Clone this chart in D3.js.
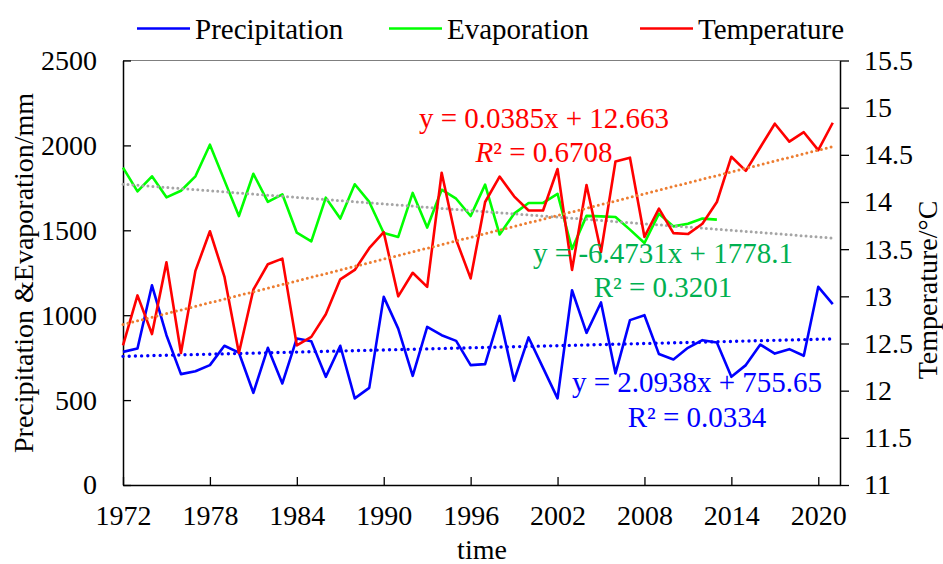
<!DOCTYPE html>
<html>
<head>
<meta charset="utf-8">
<script src="https://cdn.jsdelivr.net/npm/d3@7"></script>
<style>
  body { margin: 0; background: #fff; }
  svg text { font-family: "Liberation Serif", "Times New Roman", serif; }
</style>
</head>
<body>
<div class="canvas"></div>
<script>
// data
const years = d3.range(1972, 2022);

const precipitation = [784, 804, 1176, 882, 653, 670, 706, 820, 780, 543,
  808, 598, 863, 847, 637, 820, 510, 572, 1108, 921,
  643, 931, 882, 849, 706, 712, 996, 614, 869, 690,
  510, 1147, 896, 1075, 657, 971, 1000, 771, 739, 808,
  853, 839, 637, 706, 827, 774, 800, 761, 1167, 1065];

const evaporation = [1869, 1729, 1818, 1694, 1733, 1818, 2004, 1794, 1584, 1833,
  1667, 1712, 1486, 1435, 1692, 1569, 1771, 1667, 1484, 1461,
  1720, 1516, 1739, 1686, 1584, 1769, 1475, 1598, 1661, 1661,
  1715, 1390, 1585, 1582, 1578, 1504, 1425, 1598, 1523, 1539,
  1569, 1563];

const temperature = [12.48, 13.01, 12.60, 13.36, 12.40, 13.27, 13.69, 13.21, 12.40, 13.07,
  13.34, 13.40, 12.48, 12.57, 12.81, 13.18, 13.28, 13.51, 13.68, 13.00,
  13.25, 13.10, 14.31, 13.60, 13.19, 14.00, 14.27, 14.06, 13.91, 13.91,
  14.35, 13.28, 14.18, 13.47, 14.43, 14.47, 13.63, 13.93, 13.67, 13.66,
  13.77, 14.00, 14.48, 14.33, 14.58, 14.83, 14.64, 14.74, 14.55, 14.84];

// trendline coefficients (x = 1, 2, ... for each year)
const precipTrend = [2.0938, 755.65];
const evapTrend = [-6.4731, 1778.1];
const tempTrend = [0.0385, 12.663];

const leftTicks = [0, 500, 1000, 1500, 2000, 2500];
const rightTicks = [11, 11.5, 12, 12.5, 13, 13.5, 14, 14.5, 15, 15.5];
const yearTicks = [1972, 1978, 1984, 1990, 1996, 2002, 2008, 2014, 2020];

const width = 943;
const height = 564;
const margin = { top: 60.5, right: 103, bottom: 79, left: 123 };

const svg = d3.select('.canvas')
  .append('svg')
  .attr('width', width)
  .attr('height', height);

const x = d3.scaleLinear()
  .domain([1972, 2021.5])
  .range([margin.left, width - margin.right]);

const yL = d3.scaleLinear()
  .domain([0, 2500])
  .range([height - margin.bottom, margin.top]);

const yR = d3.scaleLinear()
  .domain([11, 15.5])
  .range([height - margin.bottom, margin.top]);

// top border of plot area
svg.append('line')
  .attr('x1', margin.left).attr('x2', width - margin.right)
  .attr('y1', margin.top).attr('y2', margin.top)
  .attr('stroke', '#7f7f7f').attr('stroke-width', 1);

// axes
const fontSize = 28;

const xAxis = d3.axisBottom(x)
  .tickValues(yearTicks)
  .tickFormat(d3.format('d'))
  .tickSizeInner(-8)
  .tickSizeOuter(0)
  .tickPadding(20);

const yAxisL = d3.axisLeft(yL)
  .tickValues(leftTicks)
  .tickFormat(d3.format('d'))
  .tickSizeInner(-8)
  .tickSizeOuter(0)
  .tickPadding(26);

const yAxisR = d3.axisRight(yR)
  .tickValues(rightTicks)
  .tickFormat(d => d)
  .tickSizeInner(9)
  .tickSizeOuter(0)
  .tickPadding(15);

const styleAxis = g => {
  g.attr('font-family', null);
  g.select('.domain').attr('stroke', '#000').attr('stroke-width', 1.5);
  g.selectAll('.tick line').attr('stroke', '#000').attr('stroke-width', 1.3);
  g.selectAll('text')
    .attr('font-size', fontSize)
    .attr('fill', '#000');
};

svg.append('g')
  .attr('transform', `translate(0, ${height - margin.bottom})`)
  .call(xAxis)
  .call(styleAxis);

svg.append('g')
  .attr('transform', `translate(${margin.left}, 0)`)
  .call(yAxisL)
  .call(styleAxis);

svg.append('g')
  .attr('transform', `translate(${width - margin.right}, 0)`)
  .call(yAxisR)
  .call(styleAxis);

// axis titles
svg.append('text')
  .attr('transform', `translate(33, 273) rotate(-90)`)
  .attr('text-anchor', 'middle')
  .attr('font-size', fontSize)
  .text('Precipitation &Evaporation/mm');

svg.append('text')
  .attr('transform', `translate(937, 290) rotate(-90)`)
  .attr('text-anchor', 'middle')
  .attr('font-size', fontSize)
  .text('Temperature/°C');

svg.append('text')
  .attr('x', 482).attr('y', 559)
  .attr('text-anchor', 'middle')
  .attr('font-size', fontSize)
  .text('time');

// lines
const lineL = d3.line()
  .x((d, i) => x(years[i]))
  .y(d => yL(d));

const lineR = d3.line()
  .x((d, i) => x(years[i]))
  .y(d => yR(d));

const trendPoints = coef => years.map((yr, i) => coef[0] * (i + 1) + coef[1]);

const addLine = (data, gen, colour) => {
  svg.append('path')
    .datum(data)
    .attr('d', gen)
    .attr('fill', 'none')
    .attr('stroke', colour)
    .attr('stroke-width', 2.6)
    .attr('stroke-linejoin', 'round');
};

const addTrend = (data, gen, colour, gap, w) => {
  svg.append('path')
    .datum(data)
    .attr('d', gen)
    .attr('fill', 'none')
    .attr('stroke', colour)
    .attr('stroke-width', w)
    .attr('stroke-linecap', 'round')
    .attr('stroke-dasharray', `0 ${gap}`);
};

addLine(precipitation, lineL, '#0000ff');
addLine(evaporation, lineL, '#00ff00');
addTrend(trendPoints(precipTrend), lineL, '#0000ff', 6.2, 3.4);
addTrend(trendPoints(evapTrend), lineL, '#a5a5a5', 5, 3);
addLine(temperature, lineR, '#ff0000');
addTrend(trendPoints(tempTrend), lineR, '#ed7d31', 5, 3);

// trendline labels
const labels = [
  { text: 'y = 0.0385x + 12.663', x: 544, y: 128, colour: '#ff0000' },
  { text: 'R² = 0.6708', x: 544, y: 162, colour: '#ff0000', italicR: true },
  { text: 'y = -6.4731x + 1778.1', x: 663, y: 263, colour: '#00b050' },
  { text: 'R² = 0.3201', x: 663, y: 297, colour: '#00b050' },
  { text: 'y = 2.0938x + 755.65', x: 697, y: 392, colour: '#0000ff' },
  { text: 'R² = 0.0334', x: 697, y: 427, colour: '#0000ff' }
];

labels.forEach(l => {
  const t = svg.append('text')
    .attr('x', l.x).attr('y', l.y)
    .attr('text-anchor', 'middle')
    .attr('font-size', 29)
    .attr('fill', l.colour);
  if (l.italicR) {
    t.append('tspan').attr('font-style', 'italic').text('R');
    t.append('tspan').text(l.text.slice(1));
  } else {
    t.text(l.text);
  }
});

// legend
const legendItems = [
  { name: 'Precipitation', colour: '#0000ff', x: 137 },
  { name: 'Evaporation', colour: '#00ff00', x: 389 },
  { name: 'Temperature', colour: '#ff0000', x: 640 }
];

const legend = svg.append('g');
legendItems.forEach(item => {
  legend.append('line')
    .attr('x1', item.x).attr('x2', item.x + 53)
    .attr('y1', 28.5).attr('y2', 28.5)
    .attr('stroke', item.colour)
    .attr('stroke-width', 2.6);
  legend.append('text')
    .attr('x', item.x + 58).attr('y', 38.5)
    .attr('font-size', 29)
    .text(item.name);
});
</script>
</body>
</html>
